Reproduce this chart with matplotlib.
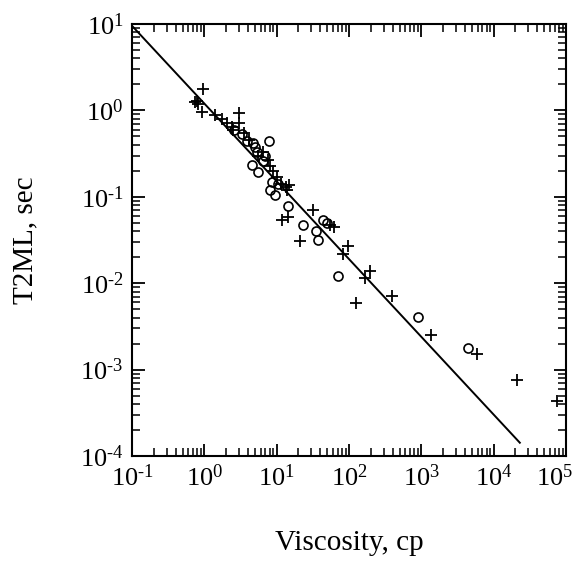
import numpy as np
import matplotlib
matplotlib.use("Agg")
import matplotlib.pyplot as plt
from matplotlib.ticker import LogLocator, FuncFormatter, NullFormatter

plt.rcParams['font.family'] = ['Liberation Serif', 'DejaVu Serif']
plt.rcParams['mathtext.fontset'] = 'custom'
plt.rcParams['mathtext.rm'] = 'Liberation Serif'
plt.rcParams['mathtext.it'] = 'Liberation Serif:italic'
plt.rcParams['mathtext.bf'] = 'Liberation Serif:bold'

# Data
cross_visc = [0.95, 0.74, 0.83, 0.80, 0.92, 1.4, 1.74, 2.04, 3.05, 3.05, 2.4, 2.5,
              3.5, 4.2, 5.6, 6.5, 7.5, 8.1, 9.0, 10, 11.5, 13.5, 15, 14, 11.8, 14.5,
              32, 21, 55, 62, 83, 98, 166, 195, 126, 390, 1380, 5800, 21000, 74000]
cross_t2 = [1.75, 1.26, 1.18, 1.30, 0.97, 0.89, 0.80, 0.71, 0.93, 0.71, 0.65, 0.60,
            0.55, 0.45, 0.30, 0.33, 0.27, 0.23, 0.20, 0.17, 0.14, 0.13, 0.137, 0.12, 0.054, 0.058,
            0.07, 0.031, 0.047, 0.045, 0.022, 0.027, 0.0115, 0.014, 0.0059, 0.0072, 0.0025,
            0.0015, 0.00076, 0.00043]

circ_visc = [2.6, 3.3, 3.85, 4.7, 5.3, 5.0, 7.8, 4.5, 5.6, 6.5, 7.0, 8.1, 9.5, 8.5,
             10.5, 14.5, 23.4, 35, 37, 44, 50, 71, 910, 4370]
circ_t2 = [0.59, 0.54, 0.44, 0.42, 0.33, 0.38, 0.44, 0.235, 0.195, 0.26, 0.30, 0.12,
           0.105, 0.15, 0.14, 0.078, 0.047, 0.040, 0.032, 0.054, 0.050, 0.012, 0.0041, 0.0018]

# Fit line T2ML = a / visc^b
fit_a = 1.2
fit_b = 0.9
fit_range = [0.1, 23000]

x_limits = [0.1, 1e5]
y_limits = [1e-4, 10]

fig = plt.figure(figsize=(5.8, 5.61), dpi=100)
ax = fig.add_axes([132/580, 1 - 456/561, (566 - 132)/580, (456 - 24)/561])

xf = np.logspace(np.log10(fit_range[0]), np.log10(fit_range[1]), 200)
ax.plot(xf, fit_a / xf**fit_b, color='black', lw=1.4)

ax.plot(cross_visc, cross_t2, linestyle='none', marker='+', color='black',
        markersize=9, markeredgewidth=1.3)
ax.plot(circ_visc, circ_t2, linestyle='none', marker='o', markerfacecolor='none',
        markeredgecolor='black', markersize=6.5, markeredgewidth=1.2)

ax.set_xscale('log')
ax.set_yscale('log')
ax.set_xlim(*x_limits)
ax.set_ylim(*y_limits)


def pow_text(v):
    e = int(round(np.log10(v)))
    s = str(e).replace('-', r'\text{-}')
    return r'$\mathregular{10^{%s}}$' % s


def x_label(v, pos):
    # the last x label is placed separately so it stays inside the figure
    if np.isclose(v, x_limits[1]):
        return ''
    return pow_text(v)


def y_label(v, pos):
    return pow_text(v)


ax.xaxis.set_major_locator(LogLocator(base=10, numticks=10))
ax.yaxis.set_major_locator(LogLocator(base=10, numticks=10))
ax.xaxis.set_minor_locator(LogLocator(base=10, subs=np.arange(2, 10), numticks=20))
ax.yaxis.set_minor_locator(LogLocator(base=10, subs=np.arange(2, 10), numticks=20))
ax.xaxis.set_major_formatter(FuncFormatter(x_label))
ax.yaxis.set_major_formatter(FuncFormatter(y_label))
ax.xaxis.set_minor_formatter(NullFormatter())
ax.yaxis.set_minor_formatter(NullFormatter())

ax.tick_params(which='both', direction='in', top=True, right=True, color='black')
ax.tick_params(which='major', length=9, width=1.3, labelsize=19, pad=6)
ax.tick_params(which='minor', length=6, width=1.1)
for s in ax.spines.values():
    s.set_linewidth(1.5)

ax.annotate(pow_text(x_limits[1]), xy=(x_limits[1], 0),
            xycoords=('data', 'axes fraction'),
            xytext=(-8, -6), textcoords='offset points',
            ha='center', va='top', fontsize=19, annotation_clip=False)

ax.set_xlabel('Viscosity, cp', fontsize=21)
ax.set_ylabel('T2ML, sec', fontsize=21)
ax.xaxis.set_label_coords(0.5, (456 - 530) / 432)
ax.yaxis.set_label_coords((38 - 132) / 434, 0.5)

fig.savefig('out.png', dpi=100)
